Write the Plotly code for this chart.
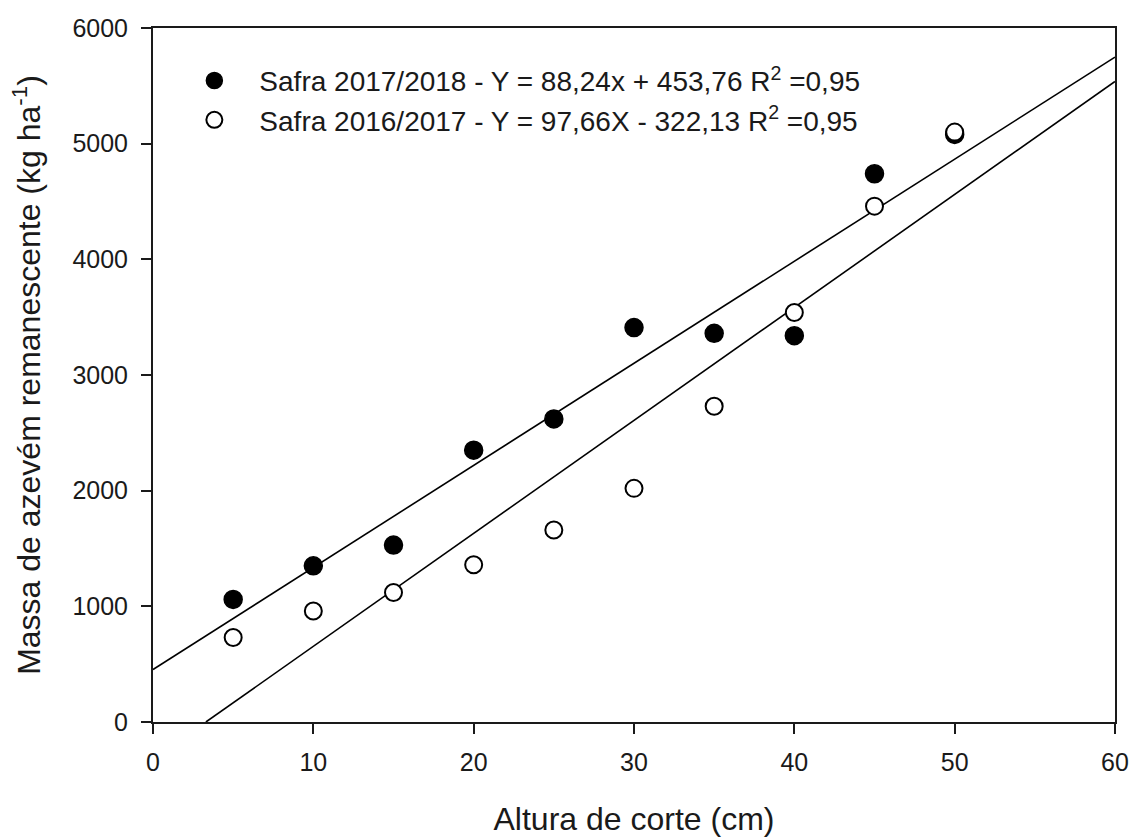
import plotly.graph_objects as go

# Data
altura = [5, 10, 15, 20, 25, 30, 35, 40, 45, 50]
massa_2017_2018 = [1060, 1350, 1530, 2350, 2620, 3410, 3360, 3340, 4740, 5080]
massa_2016_2017 = [730, 960, 1120, 1360, 1660, 2020, 2730, 3540, 4460, 5100]

# Fitted regression lines (endpoints from the equations shown in the legend)
fit_x_2017_2018 = [0, 60]
fit_y_2017_2018 = [453.76, 5748.16]
fit_x_2016_2017 = [3.3, 60]
fit_y_2016_2017 = [0, 5537.47]

name_2017_2018 = "Safra 2017/2018 - Y = 88,24x + 453,76 R<sup>2</sup> =0,95"
name_2016_2017 = "Safra 2016/2017 - Y = 97,66X - 322,13 R<sup>2</sup> =0,95"

x_ticks = [0, 10, 20, 30, 40, 50, 60]
y_ticks = [0, 1000, 2000, 3000, 4000, 5000, 6000]

FONT = "Liberation Sans, Arial, sans-serif"
INK = "#1a1a1a"

fig = go.Figure()

fig.add_trace(go.Scatter(
    x=fit_x_2017_2018, y=fit_y_2017_2018, mode="lines",
    line=dict(color="black", width=1.6), showlegend=False, hoverinfo="skip"))
fig.add_trace(go.Scatter(
    x=fit_x_2016_2017, y=fit_y_2016_2017, mode="lines",
    line=dict(color="black", width=1.6), showlegend=False, hoverinfo="skip"))

fig.add_trace(go.Scatter(
    x=altura, y=massa_2017_2018, mode="markers", name=name_2017_2018,
    marker=dict(symbol="circle", size=18, color="black",
                line=dict(color="black", width=1.5))))
fig.add_trace(go.Scatter(
    x=altura, y=massa_2016_2017, mode="markers", name=name_2016_2017,
    marker=dict(symbol="circle", size=17, color="white",
                line=dict(color="black", width=2))))

fig.update_layout(
    width=1133, height=837,
    margin=dict(l=153, r=18, t=28, b=115),
    paper_bgcolor="white", plot_bgcolor="white",
    font=dict(family=FONT, size=25, color=INK),
    showlegend=True,
    legend=dict(
        x=0.017, y=0.96, xanchor="left", yanchor="top",
        bgcolor="rgba(0,0,0,0)", borderwidth=0,
        font=dict(family=FONT, size=28, color=INK),
        itemwidth=80,
    ),
    xaxis=dict(
        range=[0, 60], tickvals=x_ticks, ticktext=[str(v) for v in x_ticks],
        showgrid=False, zeroline=False, automargin=False,
        showline=True, linecolor=INK, linewidth=2, mirror=True,
        ticks="outside", ticklen=10, tickwidth=2, tickcolor=INK,
        ticklabelstandoff=7,
        tickfont=dict(family=FONT, size=25, color=INK),
        title=dict(text="Altura de corte (cm)",
                   font=dict(family=FONT, size=32, color=INK), standoff=42),
    ),
    yaxis=dict(
        range=[0, 6000], tickvals=y_ticks, ticktext=[str(v) for v in y_ticks],
        showgrid=False, zeroline=False, automargin=False,
        showline=True, linecolor=INK, linewidth=2, mirror=True,
        ticks="outside", ticklen=10, tickwidth=2, tickcolor=INK,
        ticklabelstandoff=8,
        tickfont=dict(family=FONT, size=25, color=INK),
        title=dict(text="Massa de azevém remanescente (kg ha<sup>-1</sup>)",
                   font=dict(family=FONT, size=32, color=INK), standoff=22),
    ),
)

# Remove the default page margin so the 1133x837 figure fills the window exactly
fig.write_html(
    "out.html",
    config={"displayModeBar": False},
    post_script="document.body.style.margin='0';document.body.style.overflow='hidden';",
)
